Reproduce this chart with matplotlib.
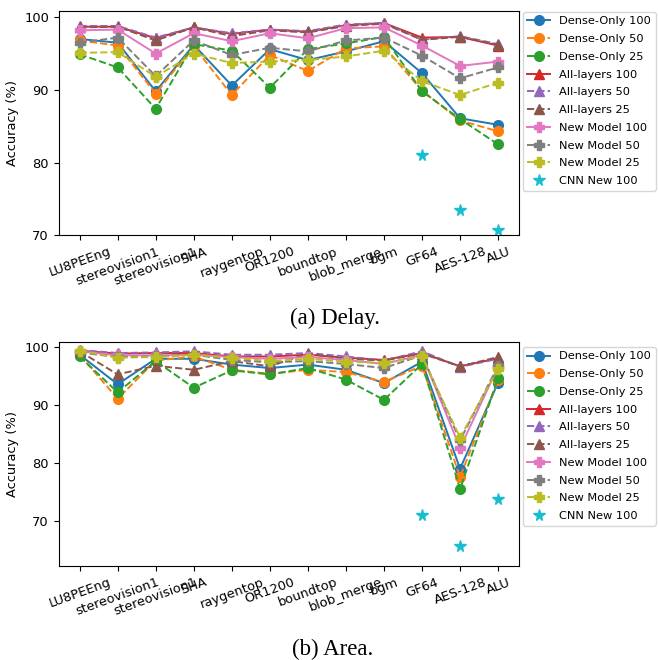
import numpy as np
import matplotlib
matplotlib.use("Agg")
import matplotlib.pyplot as plt

# %%

circuits = ["LU8PEEng", "stereovision1", "stereovision1", "SHA", "raygentop",
            "OR1200", "boundtop", "blob_merge", "bgm", "GF64", "AES-128", "ALU"]

labels = ["Dense-Only 100", "Dense-Only 50", "Dense-Only 25",
          "All-layers 100", "All-layers 50", "All-layers 25",
          "New Model 100", "New Model 50", "New Model 25", "CNN New 100"]

nan = np.nan

# delay accuracy (%)
delay_dense_100 = [97.0, 96.5, 89.8, 96.2, 90.6, 95.6, 94.1, 95.3, 96.7, 92.3, 86.1, 85.2]
delay_dense_50 = [96.8, 96.1, 89.5, 96.0, 89.3, 94.8, 92.6, 95.7, 96.0, 89.9, 85.8, 84.3]
delay_dense_25 = [94.9, 93.1, 87.4, 96.3, 95.4, 90.3, 95.6, 96.4, 97.3, 89.8, 86.0, 82.5]
delay_all_100 = [98.7, 98.7, 97.1, 98.6, 97.7, 98.3, 98.0, 98.9, 99.2, 97.2, 97.3, 96.1]
delay_all_50 = [98.8, 98.8, 97.2, 98.6, 97.8, 98.3, 98.1, 99.0, 99.2, 96.9, 97.4, 96.3]
delay_all_25 = [98.6, 98.7, 96.8, 98.6, 97.4, 98.2, 97.9, 98.8, 99.1, 96.9, 97.3, 96.2]
delay_new_100 = [98.2, 98.3, 95.0, 97.8, 96.7, 97.8, 97.1, 98.5, 98.6, 96.1, 93.3, 93.9]
delay_new_50 = [96.5, 97.2, 91.9, 96.8, 94.8, 95.8, 95.3, 96.8, 97.2, 94.7, 91.6, 93.1]
delay_new_25 = [95.1, 95.2, 91.8, 95.0, 93.7, 93.9, 94.1, 94.6, 95.4, 91.2, 89.3, 91.0]
delay_cnn_100 = [nan, nan, nan, nan, nan, nan, nan, nan, nan, 81.1, 73.5, 70.7]

# area accuracy (%)
area_dense_100 = [98.7, 93.6, 98.0, 98.0, 97.0, 96.4, 97.0, 96.1, 93.8, 97.5, 79.0, 93.9]
area_dense_50 = [98.7, 91.1, 97.7, 98.4, 96.1, 95.4, 96.1, 95.7, 94.0, 96.8, 77.6, 94.3]
area_dense_25 = [98.4, 92.2, 97.6, 93.0, 96.0, 95.3, 96.4, 94.4, 90.9, 97.1, 75.5, 94.7]
area_all_100 = [99.4, 98.9, 99.0, 99.0, 98.4, 98.4, 98.7, 98.2, 97.8, 99.0, 96.7, 98.1]
area_all_50 = [99.5, 99.0, 99.1, 99.3, 98.7, 98.7, 99.0, 98.4, 97.7, 99.3, 96.6, 98.0]
area_all_25 = [99.3, 95.3, 96.8, 96.1, 97.6, 96.7, 98.9, 98.0, 97.7, 98.9, 96.7, 98.3]
area_new_100 = [99.3, 98.6, 98.6, 98.7, 98.3, 98.0, 98.3, 97.8, 97.1, 98.7, 82.6, 96.6]
area_new_50 = [99.1, 98.3, 98.4, 98.7, 97.8, 97.4, 97.6, 97.1, 96.4, 98.6, 83.9, 96.8]
area_new_25 = [99.4, 98.2, 98.3, 98.7, 98.2, 97.6, 98.0, 97.5, 97.3, 98.4, 84.4, 96.3]
area_cnn_100 = [nan, nan, nan, nan, nan, nan, nan, nan, nan, 71.1, 65.6, 73.8]

delay_series = [delay_dense_100, delay_dense_50, delay_dense_25,
                delay_all_100, delay_all_50, delay_all_25,
                delay_new_100, delay_new_50, delay_new_25, delay_cnn_100]
area_series = [area_dense_100, area_dense_50, area_dense_25,
               area_all_100, area_all_50, area_all_25,
               area_new_100, area_new_50, area_new_25, area_cnn_100]

styles = [("o", "-"), ("o", "--"), ("o", "--"),
          ("^", "-"), ("^", "--"), ("^", "--"),
          ("P", "-"), ("P", "--"), ("P", "--"),
          ("*", "none")]

# %%

fig = plt.figure(figsize=(6.58, 6.60), dpi=100)
ax1 = fig.add_axes([0.0892, 0.6435, 0.6996, 0.3403])
ax2 = fig.add_axes([0.0892, 0.1424, 0.6996, 0.3394])

x = np.arange(len(circuits))


def draw(ax, series, ylim, leg_top):
    for i, (vals, (mk, ls)) in enumerate(zip(series, styles)):
        ms = 8.5 if mk == "*" else 7
        ax.plot(x, vals, marker=mk, linestyle=ls, color=f"C{i}",
                linewidth=1.4, markersize=ms, label=labels[i])
    ax.set_xticks(x)
    ax.set_xticklabels(circuits, rotation=20, fontsize=9.4)
    ax.set_yticks([70, 80, 90, 100])
    ax.tick_params(axis="y", labelsize=9.4)
    ax.set_ylim(*ylim)
    ax.set_ylabel("Accuracy (%)", fontsize=9.4)
    ax.legend(loc="upper left", bbox_to_anchor=(1.008, leg_top),
              borderaxespad=0, fontsize=8.2, labelspacing=0.68)


draw(ax1, delay_series, (70, 100.9), 0.995)
draw(ax2, area_series, (62.2, 100.9), 0.978)

fig.text(335 / 658, 1 - 318 / 660, "(a) Delay.", ha="center", va="center",
         fontsize=16.5, family="Liberation Serif")
fig.text(333 / 658, 1 - 649 / 660, "(b) Area.", ha="center", va="center",
         fontsize=16.5, family="Liberation Serif")

fig.savefig("out.png", dpi=100)
